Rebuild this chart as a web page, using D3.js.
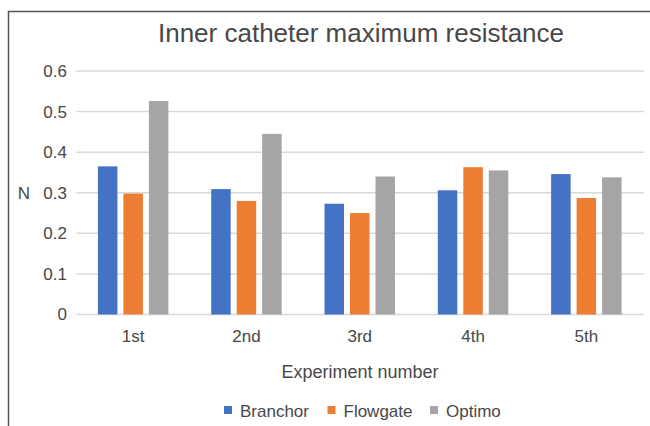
<!DOCTYPE html>
<html>
<head>
<meta charset="utf-8">
<script src="https://cdn.jsdelivr.net/npm/d3@7"></script>
<style>
  body { margin: 0; background: #fff; }
  text { font-family: "Liberation Sans", Arial, sans-serif; fill: #484848; }
</style>
</head>
<body>
<svg id="drawing_region"></svg>
<script>
const experiments = ["1st", "2nd", "3rd", "4th", "5th"];
const seriesNames = ["Branchor", "Flowgate", "Optimo"];
const branchor = [0.365, 0.309, 0.273, 0.306, 0.346];
const flowgate = [0.298, 0.280, 0.250, 0.363, 0.287];
const optimo = [0.526, 0.445, 0.340, 0.355, 0.338];
const yTicks = [0, 0.1, 0.2, 0.3, 0.4, 0.5, 0.6];
const colors = ["#4472C4", "#ED7D31", "#A5A5A5"];

const values = [branchor, flowgate, optimo];
const data = experiments.map((e, i) => ({
    exp: e,
    vals: seriesNames.map((s, k) => ({ series: s, value: values[k][i] }))
}));

const width = 650, height = 426;
const svg = d3.select('#drawing_region')
    .attr('width', width)
    .attr('height', height);

// outer frame
svg.append('rect')
    .attr('x', 8.5).attr('y', 11.5)
    .attr('width', 660).attr('height', 440)
    .attr('fill', 'none')
    .attr('stroke', '#555')
    .attr('stroke-width', 1.5);

const x0 = d3.scaleBand()
    .domain(experiments)
    .range([76.5, 643])
    .paddingInner(0.378)
    .paddingOuter(0.189);

const x1 = d3.scaleBand()
    .domain(seriesNames)
    .range([0, x0.bandwidth()])
    .paddingInner(0.235);

const y = d3.scaleLinear()
    .domain([0, 0.6])
    .range([314.5, 71]);

const color = d3.scaleOrdinal().domain(seriesNames).range(colors);

// gridlines
svg.append('g')
    .selectAll('line')
    .data(yTicks)
    .enter()
    .append('line')
    .attr('x1', 76.5).attr('x2', 644)
    .attr('y1', d => y(d)).attr('y2', d => y(d))
    .attr('stroke', '#d9d9d9')
    .attr('stroke-width', 1.5);

// y tick labels
svg.append('g')
    .selectAll('text')
    .data(yTicks)
    .enter()
    .append('text')
    .attr('x', 67)
    .attr('y', d => y(d))
    .attr('dy', '0.35em')
    .attr('text-anchor', 'end')
    .style('font-size', '17px')
    .text(d => d === 0 ? "0" : d3.format('.1f')(d));

// bars
const groups = svg.append('g')
    .selectAll('g')
    .data(data)
    .enter()
    .append('g')
    .attr('transform', d => `translate(${x0(d.exp)},0)`);

groups.selectAll('rect')
    .data(d => d.vals)
    .enter()
    .append('rect')
    .attr('x', d => x1(d.series))
    .attr('y', d => y(d.value))
    .attr('width', x1.bandwidth())
    .attr('height', d => y(0) - y(d.value))
    .attr('fill', d => color(d.series));

// x labels
svg.append('g')
    .selectAll('text')
    .data(experiments)
    .enter()
    .append('text')
    .attr('x', d => x0(d) + x0.bandwidth() / 2)
    .attr('y', 342)
    .attr('text-anchor', 'middle')
    .style('font-size', '17px')
    .text(d => d);

// title
svg.append('text')
    .attr('x', 361)
    .attr('y', 42)
    .attr('text-anchor', 'middle')
    .style('font-size', '26px')
    .text("Inner catheter maximum resistance");

// axis titles
svg.append('text')
    .attr('x', 360)
    .attr('y', 378)
    .attr('text-anchor', 'middle')
    .style('font-size', '18px')
    .text("Experiment number");

svg.append('text')
    .attr('x', 24)
    .attr('y', 193)
    .attr('dy', '0.35em')
    .attr('text-anchor', 'middle')
    .style('font-size', '17px')
    .text("N");

// legend
const legendX = [224, 327.5, 430];
const legend = svg.append('g')
    .selectAll('g')
    .data(seriesNames)
    .enter()
    .append('g')
    .attr('transform', (d, i) => `translate(${legendX[i]},0)`);

legend.append('rect')
    .attr('x', 0).attr('y', 406)
    .attr('width', 8).attr('height', 8)
    .attr('fill', d => color(d));

legend.append('text')
    .attr('x', 16)
    .attr('y', 416.5)
    .style('font-size', '17px')
    .text(d => d);
</script>
</body>
</html>
